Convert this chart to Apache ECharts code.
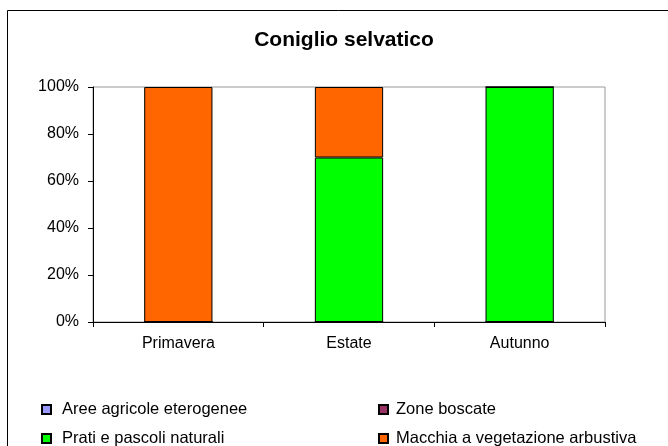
<!DOCTYPE html>
<html>
<head>
<meta charset="utf-8">
<script src="https://cdn.jsdelivr.net/npm/echarts@6/dist/echarts.min.js"></script>
<style>
  html, body { margin: 0; padding: 0; background: #fff; }
  #chart { width: 668px; height: 446px; }
</style>
</head>
<body>
<div id="chart"></div>
<script>
const seasons = ['Primavera', 'Estate', 'Autunno'];
const seriesNames = ['Aree agricole eterogenee', 'Zone boscate', 'Prati e pascoli naturali', 'Macchia a vegetazione arbustiva'];
const seriesColors = ['#9999FF', '#993366', '#00FF00', '#FF6600'];
const aree = [0, 0, 0];
const zone = [0, 0, 0];
const prati = [0, 70, 100];
const macchia = [100, 30, 0];
const values = [aree, zone, prati, macchia];

const chart = echarts.init(document.getElementById('chart'));
const font = 'Liberation Sans, Arial, sans-serif';

// one legend per entry, laid out in two columns like the original
const legendSpots = [
  { left: 41, top: 401, pad: 6 },
  { left: 378, top: 401, pad: 3 },
  { left: 41, top: 430, pad: 6 },
  { left: 378, top: 430, pad: 3 }
];

chart.setOption({
  animation: false,
  title: {
    text: 'Coniglio selvatico',
    left: 339,
    textAlign: 'center',
    top: 25,
    textStyle: { fontFamily: font, fontSize: 21, fontWeight: 'bold', color: '#000' }
  },
  legend: seriesNames.map((name, i) => ({
    data: [name],
    left: legendSpots[i].left,
    top: legendSpots[i].top,
    padding: 0,
    itemWidth: 9,
    itemHeight: 9,
    icon: 'rect',
    textStyle: {
      fontFamily: font, fontSize: 16.5, lineHeight: 16, color: '#000',
      padding: [0, 0, 0, legendSpots[i].pad]
    }
  })),
  grid: { left: 93, top: 87, width: 512, height: 235, show: true, borderColor: '#999', borderWidth: 1 },
  xAxis: {
    type: 'category',
    data: seasons,
    axisLine: { lineStyle: { color: '#000', width: 1 } },
    axisTick: { show: true, length: 5, inside: false, lineStyle: { color: '#000' } },
    axisLabel: { fontFamily: font, fontSize: 16, color: '#000', margin: 14 }
  },
  yAxis: {
    type: 'value',
    min: 0,
    max: 100,
    interval: 20,
    axisLine: { show: true, lineStyle: { color: '#000', width: 1 } },
    axisTick: { show: true, length: 5, lineStyle: { color: '#000' } },
    splitLine: { show: false },
    axisLabel: { fontFamily: font, fontSize: 16, color: '#000', margin: 14, formatter: '{value}%' }
  },
  graphic: [
    {
      type: 'rect',
      shape: { x: 7.5, y: 10.5, width: 700, height: 500 },
      style: { fill: null, stroke: '#000', lineWidth: 1 },
      silent: true
    }
  ],
  series: seriesNames.map((name, i) => ({
    name: name,
    type: 'bar',
    stack: 'total',
    barWidth: '40%',
    data: values[i],
    itemStyle: { color: seriesColors[i], borderColor: '#000', borderWidth: 1 }
  }))
});
</script>
</body>
</html>
